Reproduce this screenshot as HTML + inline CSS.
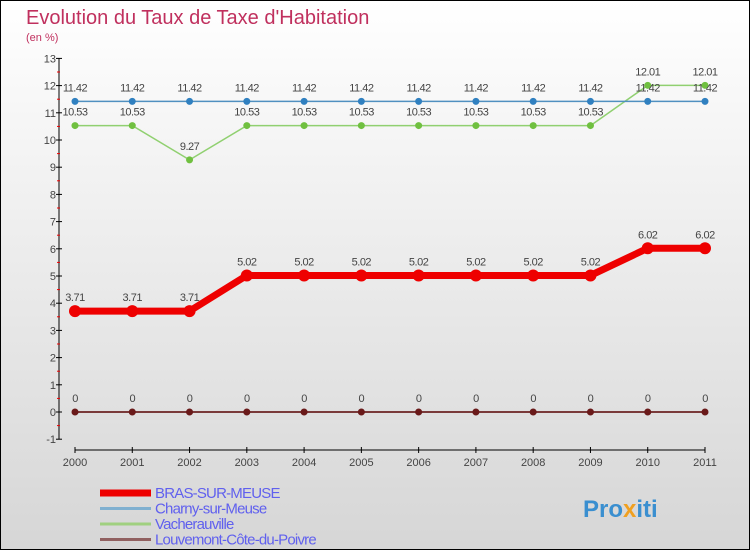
<!DOCTYPE html>
<html><head><meta charset="utf-8"><style>
body{margin:0;width:750px;height:550px;overflow:hidden;font-family:"Liberation Sans",sans-serif}
</style></head><body>
<svg id="c" width="750" height="550" xmlns="http://www.w3.org/2000/svg">
<defs><linearGradient id="bg" x1="0" y1="0" x2="0" y2="1"><stop offset="0" stop-color="#ffffff"/><stop offset="1" stop-color="#d6d6d6"/></linearGradient></defs>
<rect x="0.5" y="0.5" width="749" height="549" fill="url(#bg)" stroke="#000"/>
<text x="26" y="24" font-size="20" fill="#c0305e">Evolution du Taux de Taxe d'Habitation</text>
<text x="26" y="41" font-size="11" fill="#c0305e">(en %)</text>
<g id="axes"></g><g id="series"></g><g id="legend"></g>
<text x="583" y="517" font-size="24" font-weight="bold" fill="#3a8fd0">Pro<tspan fill="#f0a020">x</tspan>iti</text>
</svg>
<script>
const years=[2000,2001,2002,2003,2004,2005,2006,2007,2008,2009,2010,2011];
const bras=[3.71,3.71,3.71,5.02,5.02,5.02,5.02,5.02,5.02,5.02,6.02,6.02];
const charny=[11.42,11.42,11.42,11.42,11.42,11.42,11.42,11.42,11.42,11.42,11.42,11.42];
const vach=[10.53,10.53,9.27,10.53,10.53,10.53,10.53,10.53,10.53,10.53,12.01,12.01];
const louv=[0,0,0,0,0,0,0,0,0,0,0,0];
const yTicks=[-1,0,1,2,3,4,5,6,7,8,9,10,11,12,13];
const names=["BRAS-SUR-MEUSE","Charny-sur-Meuse","Vacherauville","Louvemont-Côte-du-Poivre"];
const NS="http://www.w3.org/2000/svg";
const X=i=>75+i*(630/11), Y=v=>412-v*27.2;
function mk(t,a,p){const e=document.createElementNS(NS,t);for(const k in a)e.setAttribute(k,a[k]);p.appendChild(e);return e;}
const ax=document.getElementById('axes');
let l=mk('line',{x1:59,y1:Y(13),x2:59,y2:Y(-1),stroke:'#000'},ax);


yTicks.forEach(v=>{
 mk('line',{x1:56,y1:Y(v),x2:62,y2:Y(v),stroke:'#000'},ax);
 if(v<13)mk('line',{x1:57,y1:Y(v+0.5),x2:60,y2:Y(v+0.5),stroke:'#e00'},ax);
 const t=mk('text',{x:56,y:Y(v)+4,'font-size':11,fill:'#444','text-anchor':'end'},ax);t.textContent=v;
 
 
});
l=mk('line',{x1:75,y1:450,x2:705,y2:450,stroke:'#000'},ax);


years.forEach((y,i)=>{
 mk('line',{x1:X(i),y1:447,x2:X(i),y2:453,stroke:'#000'},ax);
 const t=mk('text',{x:X(i),y:466,'font-size':11,fill:'#444','text-anchor':'middle'},ax);t.textContent=y;
 
 
});
const sg=document.getElementById('series');
const defs=[[louv,'#7a3a3a','#6a1a1a',2,3.5,'louvemont'],[vach,'#90d070','#70c040',1.5,3.5,'vacherauville'],[charny,'#5090c0','#3080c0',1.5,3.5,'charny-sur-meuse'],[bras,'#ee0000','#ee0000',7,6,'bras-sur-meuse']];
defs.forEach(([d,c,dc,w,r,n])=>{
 const g=mk('g',{},sg);
 
 
 const p=mk('polyline',{points:d.map((v,i)=>X(i)+','+Y(v)).join(' '),fill:'none',stroke:c,'stroke-width':w,'stroke-linejoin':'round'},g);
 
 
 d.forEach((v,i)=>{
  const ci=mk('circle',{cx:X(i),cy:Y(v),r:r,fill:dc},g);
  
  
  const t=mk('text',{x:X(i),y:Y(v)-10,'font-size':11,fill:'#444','text-anchor':'middle','letter-spacing':'-0.5'},g);
  t.textContent=String(v);
  
  
 });
});
const lg=document.getElementById('legend');
const lc=['#ee0000','#80b0d0','#a0d080','#906060'],lw=[7,3,3,3];
names.forEach((n,i)=>{
 const y=493+i*15.5;
 const g=mk('g',{},lg);
 
 
 mk('line',{x1:100,y1:y,x2:151,y2:y,stroke:lc[i],'stroke-width':lw[i]},g);
 const t=mk('text',{x:155,y:y+5,'font-size':15,fill:'#6060ee','letter-spacing':'-0.8'},g);t.textContent=n;
});
</script>
</body></html>
